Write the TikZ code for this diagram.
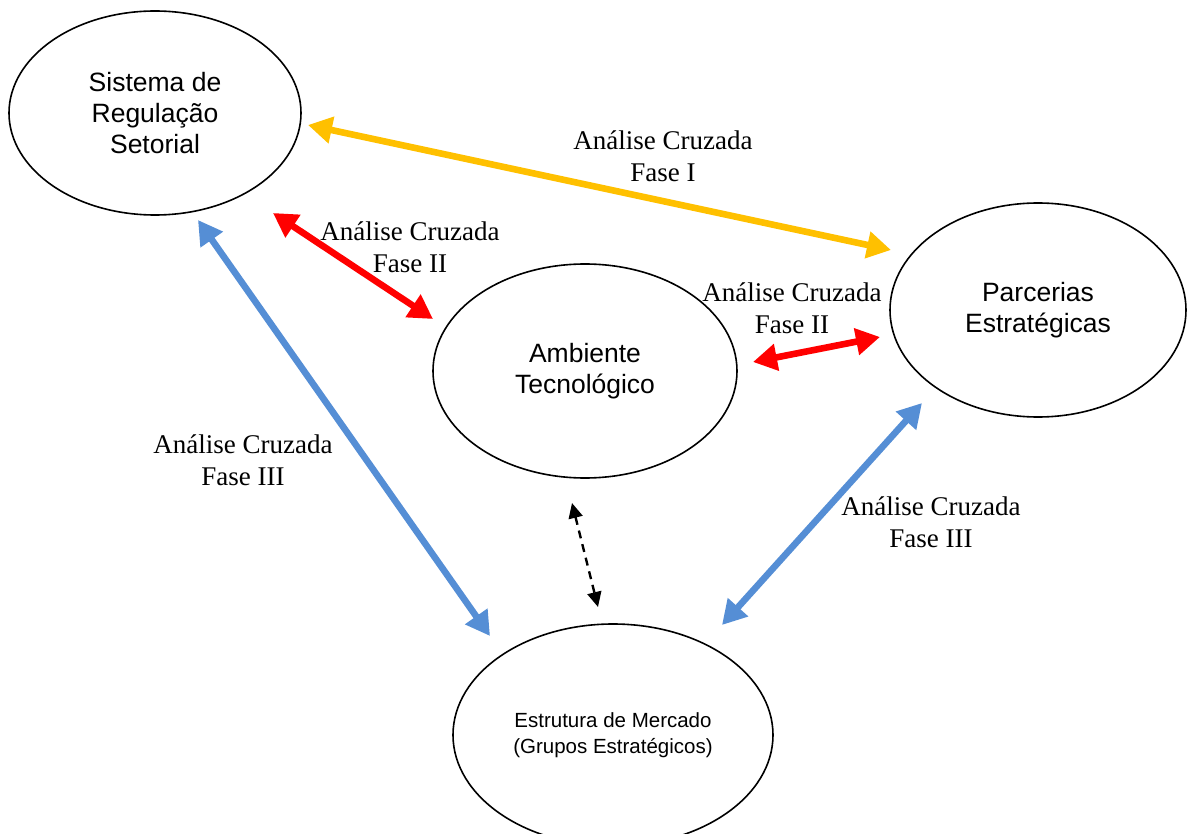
\documentclass[tikz,border=0pt]{standalone}
\usepackage{fontspec}
\setmainfont{Liberation Serif}
\newfontfamily\arialf{Liberation Sans}
\usetikzlibrary{arrows.meta,shapes.geometric}
\definecolor{cyellow}{HTML}{FFC000}
\definecolor{cred}{HTML}{FF0000}
\definecolor{cblue}{HTML}{558ED5}
\begin{document}
\begin{tikzpicture}[x=1pt,y=-1pt,
 ell/.style={draw,ellipse,line width=1.6pt,inner sep=0pt,align=center,font=\arialf\fontsize{26.5}{31}\selectfont},
 lbl/.style={align=center,font=\fontsize{27}{32}\selectfont},
 conn/.style={line width=6.6pt,{Triangle[length=24pt,width=26pt]}-{Triangle[length=24pt,width=26pt]}},
 dconn/.style={line width=2.4pt,dash pattern=on 8pt off 6pt,{Triangle[length=15pt,width=14pt]}-{Triangle[length=15pt,width=14pt]}},
]
\useasboundingbox (0,0) rectangle (1187,834);
\node[ell,minimum width=292pt,minimum height=204pt] (sys) at (155,113) {Sistema de\\Regulação\\Setorial};
\node[ell,minimum width=296pt,minimum height=214pt] (par) at (1038,310) {Parcerias\\Estratégicas};
\node[ell,minimum width=304pt,minimum height=214pt] (amb) at (585,371) {Ambiente\\Tecnológico};
\node[ell,minimum width=320pt,minimum height=222pt,font=\arialf\fontsize{20.5}{26}\selectfont] (est) at (613,735) {Estrutura de Mercado\\(Grupos Estratégicos)};

\coordinate (y1) at (308,125);
\coordinate (y2) at (891,250);
\coordinate (r1) at (273,213);
\coordinate (r2) at (433,319);
\coordinate (r3) at (753,362);
\coordinate (r4) at (880,337);
\coordinate (b1) at (198,220);
\coordinate (b2) at (490,636);
\coordinate (b3) at (922,403);
\coordinate (b4) at (722,625);
\coordinate (k1) at (572,503);
\coordinate (k2) at (598,607);

\draw[conn,cyellow] (y1) -- (y2);
\draw[conn,cred] (r1) -- (r2);
\draw[conn,cred] (r3) -- (r4);
\draw[conn,cblue] (b1) -- (b2);
\draw[conn,cblue] (b3) -- (b4);
\draw[dconn,black] (k1) -- (k2);

\node[lbl] (l1) at (663,156) {Análise Cruzada\\Fase I};
\node[lbl] (l2) at (410,247) {Análise Cruzada\\Fase II};
\node[lbl] (l3) at (792,308) {Análise Cruzada\\Fase II};
\node[lbl] (l4) at (243,460) {Análise Cruzada\\Fase III};
\node[lbl] (l5) at (931,522) {Análise Cruzada\\Fase III};
\end{tikzpicture}
\end{document}
